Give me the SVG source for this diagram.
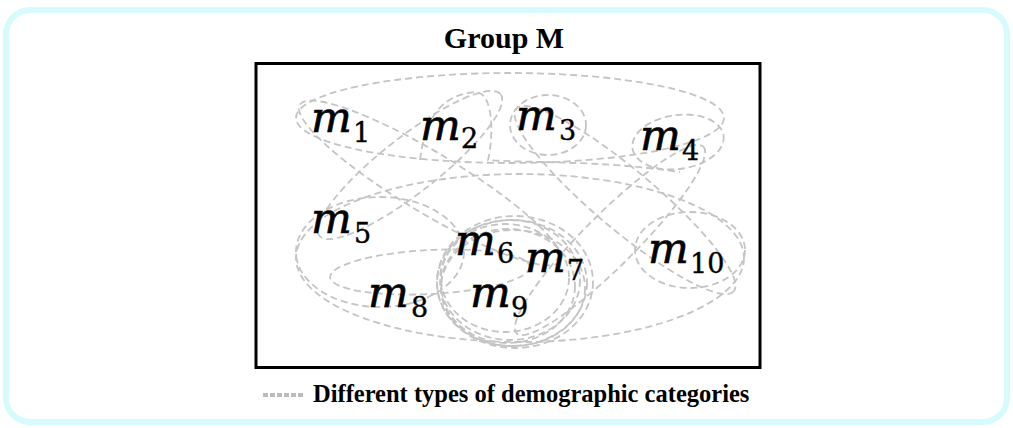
<svg xmlns="http://www.w3.org/2000/svg" width="1013" height="428" viewBox="0 0 1013 428">
<style>
.frame{fill:#fff;stroke:#d6fbfd;stroke-width:6}
.box{fill:none;stroke:#000;stroke-width:3}
.cat{fill:none;stroke:#c4c4c4;stroke-width:1.8;stroke-dasharray:7 4}
.title{font-family:"Liberation Serif",serif;font-weight:bold;font-size:30px;fill:#000}
.legend{font-family:"Liberation Serif",serif;font-weight:bold;font-size:24.5px;fill:#000}
.m{font-family:"DejaVu Serif",serif;font-style:italic;font-size:43px;fill:#000;stroke:#000;stroke-width:0.7}
.s{font-family:"DejaVu Serif",serif;font-size:27px;fill:#000;stroke:#000;stroke-width:0.4}
</style>
<rect class="frame" x="6" y="10" width="1001" height="412" rx="24"/>
<text class="title" x="504" y="48" text-anchor="middle">Group M</text>
<rect class="box" x="256" y="63.5" width="504" height="304"/>
<g id="connectors">
<ellipse class="cat" cx="510" cy="118" rx="214" ry="45"/>
<ellipse class="cat" cx="430" cy="183" rx="152" ry="30" transform="rotate(31 430 183)"/>
<ellipse class="cat" cx="410" cy="165" rx="115" ry="28" transform="rotate(-38 410 165)"/>
<ellipse class="cat" cx="548" cy="125" rx="38" ry="30"/>
<ellipse class="cat" cx="678" cy="142" rx="46" ry="27" transform="rotate(-8 678 142)"/>
<ellipse class="cat" cx="625" cy="200" rx="142" ry="30" transform="rotate(40 625 200)"/>
<ellipse class="cat" cx="610" cy="240" rx="132" ry="26" transform="rotate(-45 610 240)"/>
<ellipse class="cat" cx="690" cy="250" rx="55" ry="38"/>
<ellipse class="cat" cx="520" cy="258" rx="224" ry="84"/>
<ellipse class="cat" cx="380" cy="252" rx="84" ry="55"/>
<ellipse class="cat" cx="430" cy="272" rx="100" ry="22" transform="rotate(-3 430 272)"/>
<path class="cat" d="M420,160 C425,120 440,95 475,92 C495,92 493,140 488,160 C520,163 600,160 680,172"/>
<ellipse class="cat" cx="510" cy="280" rx="70" ry="60"/>
<ellipse class="cat" cx="512" cy="283" rx="75" ry="63"/>
<ellipse class="cat" cx="508" cy="286" rx="67" ry="57"/>
<ellipse class="cat" cx="515" cy="282" rx="78" ry="66"/>
<ellipse class="cat" cx="505" cy="278" rx="64" ry="54"/>
<ellipse class="cat" cx="513" cy="288" rx="72" ry="58"/>
</g>
<g id="m1"><text class="m" x="311" y="132">m</text><text class="s" x="353" y="142">1</text></g>
<g id="m2"><text class="m" x="420" y="140">m</text><text class="s" x="461" y="148">2</text></g>
<g id="m3"><text class="m" x="516" y="130">m</text><text class="s" x="559" y="140">3</text></g>
<g id="m4"><text class="m" x="640" y="150">m</text><text class="s" x="682" y="160">4</text></g>
<g id="m5"><text class="m" x="311" y="233">m</text><text class="s" x="354" y="243">5</text></g>
<g id="m6"><text class="m" x="455" y="255">m</text><text class="s" x="497" y="263">6</text></g>
<g id="m7"><text class="m" x="525" y="272">m</text><text class="s" x="567" y="280">7</text></g>
<g id="m8"><text class="m" x="368" y="307">m</text><text class="s" x="411" y="317">8</text></g>
<g id="m9"><text class="m" x="470" y="307">m</text><text class="s" x="511" y="317">9</text></g>
<g id="m10"><text class="m" x="648" y="263">m</text><text class="s" x="690" y="273">10</text></g>
<g id="legend">
<line x1="263" y1="395" x2="305" y2="395" stroke="#bbb" stroke-width="4" stroke-dasharray="5 2"/>
<text class="legend" x="313" y="402">Different types of demographic categories</text>
</g>
</svg>
